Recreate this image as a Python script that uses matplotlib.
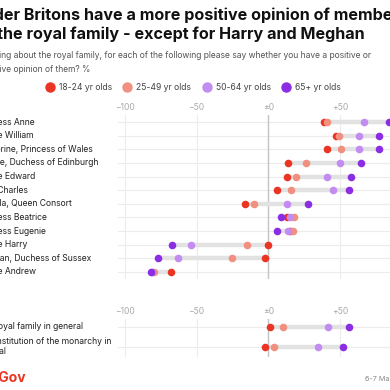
import matplotlib
matplotlib.use("Agg")
import matplotlib.pyplot as plt
from matplotlib.lines import Line2D
from matplotlib.transforms import blended_transform_factory

plt.rcParams['font.family'] = ['Inter', 'DejaVu Sans']

# --- data (net positive opinion, %) ---
members = ["Princess Anne", "Prince William", "Catherine, Princess of Wales",
           "Sophie, Duchess of Edinburgh", "Prince Edward", "King Charles",
           "Camilla, Queen Consort", "Princess Beatrice", "Princess Eugenie",
           "Prince Harry", "Meghan, Duchess of Sussex", "Prince Andrew"]
m_18_24 = [39, 47, 41, 14, 13, 6, -16, 13, 15, 0, -2, -68]
m_25_49 = [41, 49, 51, 26, 19, 16, -10, 18, 17, -15, -25, -80]
m_50_64 = [67, 63, 63, 50, 41, 45, 13, 15, 14, -54, -63, -81]
m_65_plus = [84, 77, 77, 65, 58, 56, 28, 9, 6, -67, -77, -82]

general = ["The royal family in general", "The institution of the monarchy in\ngeneral"]
g_18_24 = [1, -2]
g_25_49 = [10, 4]
g_50_64 = [42, 35]
g_65_plus = [56, 52]

groups = ["18-24 yr olds", "25-49 yr olds", "50-64 yr olds", "65+ yr olds"]
colors = ["#ea3424", "#f29080", "#c28cf1", "#8b2de2"]

ticks = [-100, -50, 0, 50, 100]
tick_labels = ["\u2212100", "\u221250", "\u00b10", "+50", "+100"]

W = H = 390.0
def fx(px): return px / W
def fy(py): return 1 - py / H

fig = plt.figure(figsize=(3.9, 3.9), dpi=100)
fig.patch.set_facecolor("white")

LEFT = -23  # left margin of the (cropped) chart, in px

# title + subtitle
fig.text(fx(LEFT), fy(15), "Older Britons have a more positive opinion of members",
         fontsize=11.6, fontweight="bold", color="#111111", va="center", ha="left")
fig.text(fx(LEFT), fy(34), "of the royal family - except for Harry and Meghan",
         fontsize=11.6, fontweight="bold", color="#111111", va="center", ha="left")
fig.text(fx(LEFT), fy(56), "Thinking about the royal family, for each of the following please say whether you have a positive or",
         fontsize=6.1, color="#555555", va="center", ha="left")
fig.text(fx(LEFT), fy(69), "negative opinion of them? %",
         fontsize=6.1, color="#555555", va="center", ha="left")

handles = [Line2D([], [], marker="o", linestyle="", markersize=6.5, color=c) for c in colors]
fig.legend(handles, groups, ncol=4, loc="center", bbox_to_anchor=(fx(191), fy(88)),
           frameon=False, fontsize=6.2, handletextpad=0.05, columnspacing=0.8,
           labelcolor="#444444")


def draw_panel(ax, labels, series, ylim):
    n = len(labels)
    ys = list(range(n))
    ax.set_xlim(-105, 105)
    ax.set_ylim(*ylim)
    for s in ax.spines.values():
        s.set_visible(False)
    ax.xaxis.tick_top()
    ax.set_xticks(ticks)
    ax.set_xticklabels(tick_labels)
    ax.tick_params(axis="x", length=0, pad=2, labelsize=6.2, labelcolor="#aaaaaa")
    ax.set_yticks(ys)
    ax.set_yticklabels([])
    ax.tick_params(axis="y", length=0)
    ax.grid(True, color="#ececec", lw=0.8)
    ax.set_axisbelow(True)
    ax.axvline(0, color="#c4c4c4", lw=1.0, zorder=1)
    for i in ys:
        vals = [s[i] for s in series]
        ax.plot([min(vals), max(vals)], [i, i], color="#e2e2e2", lw=3.2,
                solid_capstyle="round", zorder=2)
    for s, c in zip(series, colors):
        ax.scatter(s, ys, s=30, color=c, zorder=3, linewidths=0)
    tr = blended_transform_factory(fig.transFigure, ax.transData)
    for i, lab in zip(ys, labels):
        ax.text(fx(LEFT), i, lab, transform=tr, ha="left", va="center",
                fontsize=6.2, color="#222222")


# top panel: -100 at 125px, 1 unit = 1.433px
unit = 1.433
x0 = 125 - 5 * unit
width = 210 * unit
top_px, bot_px = 115.2, 278.8
ax1 = fig.add_axes([fx(x0), fy(bot_px), width / W, (bot_px - top_px) / H])
draw_panel(ax1, members, [m_18_24, m_25_49, m_50_64, m_65_plus], (11.5, -0.5))

top2, bot2 = 319.0, 356.5
ax2 = fig.add_axes([fx(x0), fy(bot2), width / W, (bot2 - top2) / H])
draw_panel(ax2, general, [g_18_24, g_25_49, g_50_64, g_65_plus], (1.5, -0.4))

# footer
fig.text(fx(26), fy(378), "YouGov", fontsize=10, fontweight="bold",
         color="#ea3424", va="center", ha="right")
fig.text(fx(365), fy(379), "6-7 March 2023", fontsize=5.2, color="#888888",
         va="center", ha="left")

fig.savefig("out.png", dpi=100)
